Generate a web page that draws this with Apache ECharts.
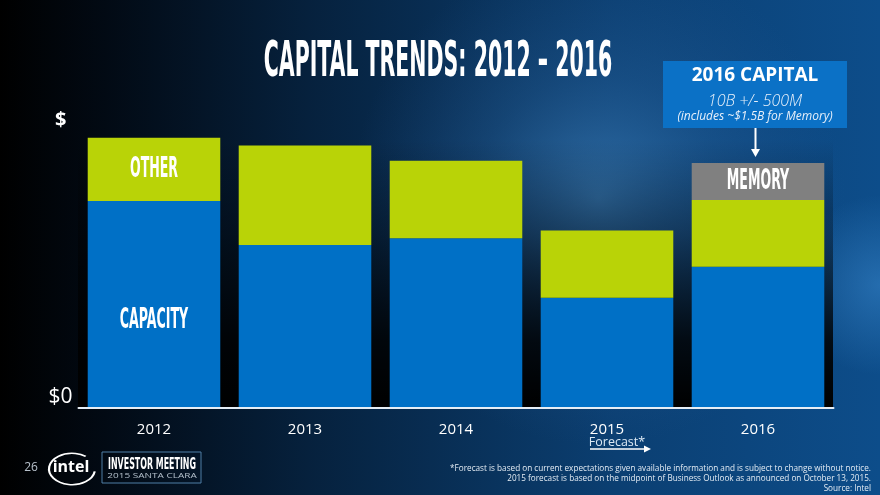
<!DOCTYPE html>
<html>
<head>
<meta charset="utf-8">
<script src="https://cdn.jsdelivr.net/npm/echarts@6/dist/echarts.min.js"></script>
<style>html,body{margin:0;padding:0;background:#000;}#c{width:880px;height:495px;}</style>
</head>
<body>
<div id="c"></div>
<script>
// ---- data ($B) ----
const years = ['2012', '2013', '2014', '2015', '2016'];
const capacity = [8.45, 6.65, 6.93, 4.50, 5.77];
const other    = [2.58, 4.07, 3.16, 2.75, 2.72];
const memory   = [0, 0, 0, 0, 1.51];
const yTickLabels = ['$0', '$'];
const yMax = 11.35;

const chart = echarts.init(document.getElementById('c'), null, {renderer: 'canvas'});

const narrow = '"Liberation Sans Narrow", "DejaVu Sans Condensed", sans-serif';
const clear = '"Open Sans", "Noto Sans", sans-serif';

// segment labels placed through the value scale
const segLabels = [
  {cat: 0, val: capacity[0] * 0.42, text: 'CAPACITY'},
  {cat: 0, val: capacity[0] + other[0] / 2, text: 'OTHER'},
  {cat: 4, val: capacity[4] + other[4] + memory[4] / 2, text: 'MEMORY'}
];

const option = {
  backgroundColor: '#03101f',
  animation: false,
  grid: {left: 78.5, right: 46.5, top: 130, bottom: 87, containLabel: false},
  xAxis: {
    type: 'category',
    data: years,
    axisLine: {show: true, lineStyle: {color: '#e6eef6', width: 2}},
    axisTick: {show: false},
    axisLabel: {color: '#ffffff', fontSize: 15, fontFamily: clear, margin: 14},
    z: 10
  },
  yAxis: {
    type: 'value',
    min: 0, max: yMax, interval: yMax,
    splitLine: {show: false},
    axisLine: {show: false},
    axisTick: {show: false},
    axisLabel: {
      color: '#ffffff', fontFamily: clear, margin: 6, verticalAlign: 'bottom',
      formatter: function (v) { return v === 0 ? yTickLabels[0] : '{d|' + yTickLabels[1] + '}'; },
      rich: {d: {color: '#ffffff', fontFamily: clear, fontSize: 20, fontWeight: 'bold', padding: [0, 6, 0, 0]}},
      fontSize: 21
    }
  },
  graphic: [
    // background layers
    {type: 'rect', z: -100, silent: true, shape: {x: 0, y: 0, width: 880, height: 495},
      style: {fill: new echarts.graphic.LinearGradient(0, 0, 1, 0, [
        {offset: 0, color: '#000000'},
        {offset: 0.12, color: '#020a14'},
        {offset: 0.35, color: '#06213d'},
        {offset: 0.7, color: '#0b3f72'},
        {offset: 1, color: '#0d4d8a'}
      ])}},
    {type: 'rect', z: -99, silent: true, shape: {x: 0, y: 0, width: 880, height: 495},
      style: {fill: new echarts.graphic.RadialGradient(0.68, 0.4, 0.5, [
        {offset: 0, color: 'rgba(75,145,205,0.6)'},
        {offset: 0.5, color: 'rgba(50,110,170,0.28)'},
        {offset: 1, color: 'rgba(40,90,150,0)'}
      ])}},
    {type: 'rect', z: -99, silent: true, shape: {x: 780, y: 150, width: 100, height: 300},
      style: {fill: new echarts.graphic.RadialGradient(1, 0.45, 0.9, [
        {offset: 0, color: 'rgba(60,140,210,0.5)'},
        {offset: 1, color: 'rgba(60,140,210,0)'}
      ])}},
    // shadow behind the bars
    {type: 'rect', z: -98, silent: true, shape: {x: 78, y: 140, width: 755, height: 268},
      style: {fill: new echarts.graphic.LinearGradient(0, 0, 0, 1, [
        {offset: 0, color: 'rgba(0,0,0,0)'},
        {offset: 0.35, color: 'rgba(0,0,0,0.35)'},
        {offset: 0.75, color: 'rgba(0,0,0,0.85)'},
        {offset: 1, color: 'rgba(0,0,0,1)'}
      ])}},
    // title
    {type: 'text', x: 438, y: 63, scaleX: 0.465, z: 20,
      style: {text: 'CAPITAL TRENDS: 2012 – 2016', fill: '#ffffff', font: 'bold 49px ' + narrow,
        align: 'center', verticalAlign: 'middle'}},
    // callout
    {type: 'rect', z: 20, shape: {x: 663, y: 61, width: 184, height: 67}, style: {fill: '#0b71c6'}},
    {type: 'text', x: 755, y: 76, z: 21,
      style: {text: '2016 CAPITAL', fill: '#ffffff', font: 'bold 19px ' + clear, align: 'center', verticalAlign: 'middle'}},
    {type: 'text', x: 755, y: 101, z: 21,
      style: {text: '10B +/- 500M', fill: '#e8f0fa', font: 'italic 300 16px ' + clear, align: 'center', verticalAlign: 'middle'}},
    {type: 'text', x: 755, y: 117, z: 21,
      style: {text: '(includes ~$1.5B for Memory)', fill: '#e8f0fa', font: 'italic 12px ' + clear, align: 'center', verticalAlign: 'middle'}},
    {type: 'line', z: 21, shape: {x1: 755.5, y1: 128, x2: 755.5, y2: 151}, style: {stroke: '#ffffff', lineWidth: 2}},
    {type: 'polygon', z: 21, shape: {points: [[751, 149], [760, 149], [755.5, 157]]}, style: {fill: '#ffffff'}},
    // forecast marker
    {type: 'text', x: 617, y: 442, z: 21,
      style: {text: 'Forecast*', fill: '#dbe8f4', font: '12.5px ' + clear, align: 'center', verticalAlign: 'middle'}},
    {type: 'line', z: 21, shape: {x1: 590, y1: 449, x2: 646, y2: 449}, style: {stroke: '#ffffff', lineWidth: 1.3}},
    {type: 'polygon', z: 21, shape: {points: [[644, 445.5], [651, 449], [644, 452.5]]}, style: {fill: '#ffffff'}},
    // footer left
    {type: 'text', x: 31, y: 468, z: 21,
      style: {text: '26', fill: '#b8c2cc', font: '12px ' + clear, align: 'center', verticalAlign: 'middle'}},
    {type: 'arc', z: 21, shape: {cx: 72, cy: 469, r: 23, startAngle: 0.15, endAngle: 5.35}, scaleY: 0.68, originX: 72, originY: 469,
      style: {stroke: '#ffffff', lineWidth: 2.2, fill: null}},
    {type: 'text', x: 71, y: 467, z: 21,
      style: {text: 'intel', fill: '#ffffff', font: 'bold 16px ' + clear, align: 'center', verticalAlign: 'middle'}},
    {type: 'rect', z: 21, shape: {x: 102, y: 452, width: 99, height: 31}, style: {fill: null, stroke: '#4f7fa6', lineWidth: 1}},
    {type: 'text', x: 152, y: 465, scaleX: 0.55, z: 22,
      style: {text: 'INVESTOR MEETING', fill: '#ffffff', font: 'bold 16px ' + narrow, align: 'center', verticalAlign: 'middle'}},
    {type: 'text', x: 152, y: 476, scaleX: 1.28, z: 22,
      style: {text: '2015 SANTA CLARA', fill: '#b4c0cc', font: '7.8px ' + clear, align: 'center', verticalAlign: 'middle'}},
    // footnote
    {type: 'text', x: 871, y: 468, z: 21, scaleX: 0.86,
      style: {text: '*Forecast is based on current expectations given available information and is subject to change without notice.',
        fill: '#e4ecf4', font: '9.5px ' + clear, align: 'right', verticalAlign: 'middle'}},
    {type: 'text', x: 871, y: 478, z: 21, scaleX: 0.86,
      style: {text: '2015 forecast is based on the midpoint of Business Outlook as announced on October 13, 2015.',
        fill: '#e4ecf4', font: '9.5px ' + clear, align: 'right', verticalAlign: 'middle'}},
    {type: 'text', x: 871, y: 488, z: 21, scaleX: 0.86,
      style: {text: 'Source: Intel', fill: '#e4ecf4', font: '9.5px ' + clear, align: 'right', verticalAlign: 'middle'}}
  ],
  series: [
    {name: 'Capacity', type: 'bar', stack: 'cap', data: capacity, barCategoryGap: '12.2%',
      itemStyle: {color: '#0070c6'}, z: 2},
    {name: 'Other', type: 'bar', stack: 'cap', data: other,
      itemStyle: {color: '#b9d307'}, z: 2},
    {name: 'Memory', type: 'bar', stack: 'cap', data: memory,
      itemStyle: {color: '#808080'}, z: 2},
    {name: 'Labels', type: 'custom', z: 5,
      data: segLabels.map(d => [d.cat, d.val]),
      renderItem: function (params, api) {
        const p = api.coord([api.value(0), api.value(1)]);
        return {type: 'text', x: p[0], y: p[1], scaleX: 0.5,
          style: {text: segLabels[params.dataIndex].text, fill: '#ffffff', font: 'bold 28px ' + narrow,
            align: 'center', verticalAlign: 'middle'}};
      }}
  ]
};
chart.setOption(option);
</script>
</body>
</html>
